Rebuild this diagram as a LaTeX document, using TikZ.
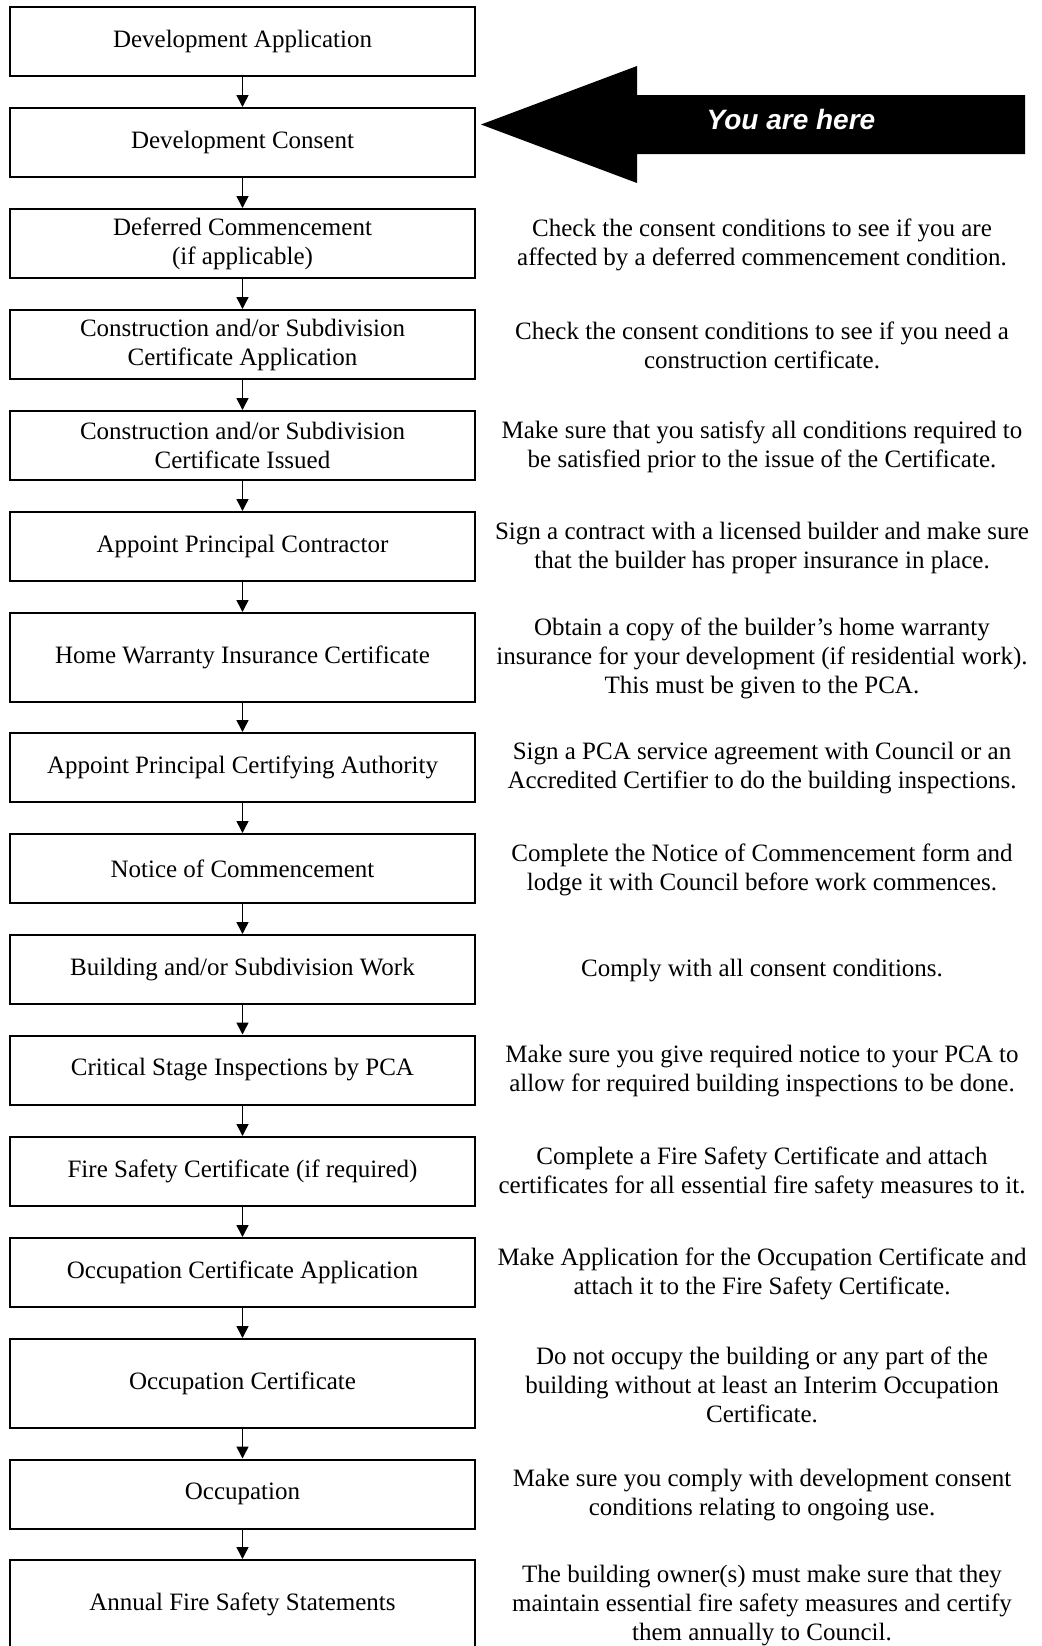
\documentclass[tikz,border=0pt]{standalone}
\usepackage{fontspec}
\setmainfont{Liberation Serif}
\newfontfamily\herefont{Liberation Sans}
\usetikzlibrary{arrows.meta}
\tikzset{
    stage/.style = {draw, line width = 1pt, minimum width = 232.5pt, minimum height = 34.5pt, align = center, inner sep = 1pt, font = \fontsize{12.5}{14.5}\selectfont},
    tallstage/.style = {stage, minimum height = 44.5pt},
    note/.style = {align = center, inner sep = 0pt, font = \fontsize{12.5}{14.5}\selectfont},
    flow/.style = {line width = 0.75pt, -{Triangle[width = 6pt, length = 6pt]}}
}
\begin{document}
\begin{tikzpicture}[x = 0.5pt, y = -0.5pt]
        \useasboundingbox (0, 0) rectangle (1042, 1646);
        % stages
        \node [stage] (s1) at (242.5, 41) {Development Application};
        \node [stage] (s2) at (242.5, 142.5) {Development Consent};
        \node [stage] (s3) at (242.5, 243.5) {Deferred Commencement\\(if applicable)};
        \node [stage] (s4) at (242.5, 344.5) {Construction and/or Subdivision\\Certificate Application};
        \node [stage] (s5) at (242.5, 445.5) {Construction and/or Subdivision\\Certificate Issued};
        \node [stage] (s6) at (242.5, 546.5) {Appoint Principal Contractor};
        \node [tallstage] (s7) at (242.5, 657.5) {Home Warranty Insurance Certificate};
        \node [stage] (s8) at (242.5, 767.5) {Appoint Principal Certifying Authority};
        \node [stage] (s9) at (242.5, 868.5) {Notice of Commencement};
        \node [stage] (s10) at (242.5, 969.5) {Building and/or Subdivision Work};
        \node [stage] (s11) at (242.5, 1070) {Critical Stage Inspections by PCA};
        \node [stage] (s12) at (242.5, 1171.5) {Fire Safety Certificate (if required)};
        \node [stage] (s13) at (242.5, 1272.5) {Occupation Certificate Application};
        \node [tallstage] (s14) at (242.5, 1383.5) {Occupation Certificate};
        \node [stage] (s15) at (242.5, 1494) {Occupation};
        \node [tallstage] (s16) at (242.5, 1604.5) {Annual Fire Safety Statements};
        \foreach \i [evaluate = \i as \j using int(\i + 1)] in {1, ..., 15}
            \draw [flow] (s\i) -- (s\j);
        % you are here
        \fill (481, 124.5) -- (637, 66) -- (637, 95) -- (1025, 95) -- (1025, 154) -- (637, 154) -- (637, 183) -- cycle;
        \node [white, font = \herefont\fontsize{14}{16}\selectfont\bfseries\itshape] (here) at (791, 119) {You are here};
        % notes
        \node [note] (n3) at (762, 244.5) {Check the consent conditions to see if you are\\affected by a deferred commencement condition.};
        \node [note] (n4) at (762, 345.5) {Check the consent conditions to see if you need a\\construction certificate.};
        \node [note] (n5) at (762, 446.5) {Make sure that you satisfy all conditions required to\\be satisfied prior to the issue of the Certificate.};
        \node [note] (n6) at (762, 547.5) {Sign a contract with a licensed builder and make sure\\that the builder has proper insurance in place.};
        \node [note] (n7) at (762, 658.5) {Obtain a copy of the builder’s home warranty\\insurance for your development (if residential work).\\This must be given to the PCA.};
        \node [note] (n8) at (762, 768.5) {Sign a PCA service agreement with Council or an\\Accredited Certifier to do the building inspections.};
        \node [note] (n9) at (762, 869.5) {Complete the Notice of Commencement form and\\lodge it with Council before work commences.};
        \node [note] (n10) at (762, 970.5) {Comply with all consent conditions.};
        \node [note] (n11) at (762, 1071) {Make sure you give required notice to your PCA to\\allow for required building inspections to be done.};
        \node [note] (n12) at (762, 1172.5) {Complete a Fire Safety Certificate and attach\\certificates for all essential fire safety measures to it.};
        \node [note] (n13) at (762, 1273.5) {Make Application for the Occupation Certificate and\\attach it to the Fire Safety Certificate.};
        \node [note] (n14) at (762, 1384.5) {Do not occupy the building or any part of the\\building without at least an Interim Occupation\\Certificate.};
        \node [note] (n15) at (762, 1495) {Make sure you comply with development consent\\conditions relating to ongoing use.};
        \node [note] (n16) at (762, 1605.5) {The building owner(s) must make sure that they\\maintain essential fire safety measures and certify\\them annually to Council.};
    \end{tikzpicture}
\end{document}
